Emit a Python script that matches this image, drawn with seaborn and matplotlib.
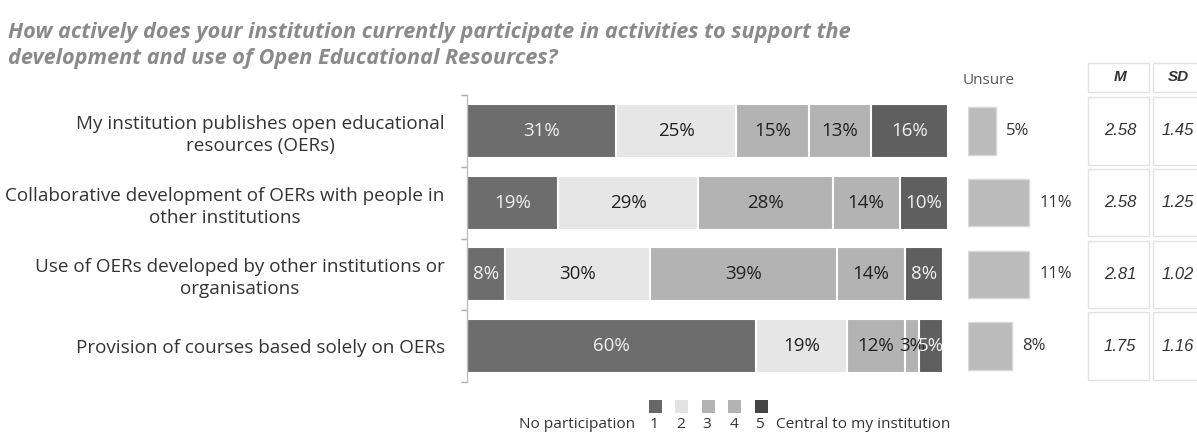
import matplotlib
matplotlib.use("Agg")
import matplotlib.pyplot as plt
import seaborn as sns
import numpy as np
import pandas as pd
from matplotlib.patches import Rectangle

# ---------------- data ----------------
title = ("How actively does your institution currently participate in activities to support the\n"
         "development and use of Open Educational Resources?")
categories = [
    "My institution publishes open educational\nresources (OERs)",
    "Collaborative development of OERs with people in\nother institutions",
    "Use of OERs developed by other institutions or\norganisations",
    "Provision of courses based solely on OERs",
]
levels = ["1", "2", "3", "4", "5"]
level1 = [31, 19, 8, 60]
level2 = [25, 29, 30, 19]
level3 = [15, 28, 39, 12]
level4 = [13, 14, 14, 3]
level5 = [16, 10, 8, 5]
unsure = [5, 11, 11, 8]
mean_vals = [2.58, 2.58, 2.81, 1.75]
sd_vals = [1.45, 1.25, 1.02, 1.16]
legend_left = "No participation"
legend_right = "Central to my institution"
unsure_header = "Unsure"
table_headers = ["M", "SD"]

# ---------------- style ----------------
sns.set_theme(style="white")
plt.rcParams["font.family"] = ["Open Sans", "DejaVu Sans"]

colors = ["#6d6d6d", "#e6e6e6", "#b3b3b3", "#b3b3b3", "#5f5f5f"]
legend_colors = ["#676767", "#e3e3e3", "#b3b3b3", "#b3b3b3", "#454545"]
text_colors = ["#f0f0f0", "#222222", "#222222", "#222222", "#f0f0f0"]

W, H = 1197, 432
fig = plt.figure(figsize=(W / 100, H / 100), dpi=100)


def px_axes(x0, y0, x1, y1):
    return fig.add_axes([x0 / W, 1 - y1 / H, (x1 - x0) / W, (y1 - y0) / H])


df = pd.DataFrame({"category": categories, "1": level1, "2": level2,
                   "3": level3, "4": level4, "5": level5, "unsure": unsure})
cum = df[levels].cumsum(axis=1)

# ---------------- main stacked bars ----------------
ax = px_axes(467, 95, 948, 382)
for k in range(len(levels) - 1, -1, -1):
    sns.barplot(x=cum[levels[k]], y=df["category"], color=colors[k], orient="h",
                width=0.75, errorbar=None, edgecolor="white", linewidth=1.5,
                saturation=1, ax=ax)
ax.set_xlim(0, 100)
ax.set_ylim(3.5, -0.5)
for k, lev in enumerate(levels):
    starts = cum[lev] - df[lev]
    for i, v in enumerate(df[lev]):
        ax.text(starts[i] + v / 2, i, f"{v}%", ha="center", va="center",
                fontsize=13.5, color=text_colors[k])
ax.set_xlabel("")
ax.set_ylabel("")
ax.set_xticks([])
ax.set_yticks(range(len(categories)))
ax.set_yticklabels(categories, fontsize=13.6, color="#333333", linespacing=1.28)
for lab in ax.get_yticklabels():
    lab.set_multialignment("center")
ax.tick_params(axis="y", which="major", length=0, pad=16)
ax.set_yticks(np.arange(-0.5, len(categories), 1.0), minor=True)
ax.tick_params(axis="y", which="minor", length=4, width=1, color="#aaaaaa", left=True)
for s in ["top", "right", "bottom"]:
    ax.spines[s].set_visible(False)
ax.spines["left"].set_color("#c0c0c0")
ax.spines["left"].set_linewidth(1)

# ---------------- unsure bars ----------------
ax2 = px_axes(968, 95, 1080, 382)
sns.barplot(x=df["unsure"], y=df["category"], color="#bbbbbb", orient="h",
            width=0.66, errorbar=None, edgecolor="#d8d8d8", linewidth=1,
            saturation=1, ax=ax2)
ax2.set_xlim(0, 112 / 5.55)
ax2.set_ylim(3.5, -0.5)
for i, v in enumerate(unsure):
    ax2.text(v + 1.8, i, f"{v}%", ha="left", va="center", fontsize=12, color="#333333")
ax2.axis("off")
ax2.text(-0.9, -0.7, unsure_header, ha="left", va="center", fontsize=11, color="#555555")

# ---------------- M / SD table ----------------
ax3 = px_axes(1086, 61, 1197, 383)
ax3.set_xlim(0, 111)
ax3.set_ylim(3.514, -0.974)
ax3.axis("off")
col_x = [(2, 63), (67, 114)]
text_x = [34, 92]
header_y = (-0.95, -0.54)
for j, (xa, xb) in enumerate(col_x):
    ax3.add_patch(Rectangle((xa, header_y[0]), xb - xa, header_y[1] - header_y[0],
                            facecolor="white", edgecolor="#e2e2e2", lw=1, clip_on=False))
    ax3.text(text_x[j], sum(header_y) / 2, table_headers[j],
             ha="center", va="center", fontsize=11, fontweight="bold", style="italic",
             family="Liberation Sans", color="#333333")
    vals = mean_vals if j == 0 else sd_vals
    for i, v in enumerate(vals):
        ax3.add_patch(Rectangle((xa, i - 0.47), xb - xa, 0.94, facecolor="white",
                                edgecolor="#e2e2e2", lw=1, clip_on=False))
        ax3.text(text_x[j], i, f"{v:.2f}", ha="center", va="center",
                 fontsize=12, style="italic", family="Liberation Sans", color="#333333")

# ---------------- legend ----------------
axl = px_axes(500, 395, 980, 432)
u = 26.5
x0 = 627.5
axl.set_xlim((500 - x0) / u, (980 - x0) / u)
axl.set_ylim(0, 1)
axl.axis("off")
lx = np.arange(1, len(levels) + 1)
axl.scatter(lx + 0.05, [0.68] * len(levels), marker="s", s=85, c=legend_colors,
            edgecolors="none")
for xv, lab in zip(lx, levels):
    axl.text(xv, 0.2, lab, ha="center", va="center", fontsize=11.1, color="#333333")
axl.text(0.3, 0.2, legend_left, ha="right", va="center", fontsize=11.1, color="#333333")
axl.text(5.62, 0.2, legend_right, ha="left", va="center", fontsize=11.1, color="#333333")

# ---------------- title ----------------
fig.text(8 / W, 1 - 22 / H, title, ha="left", va="top", fontsize=15.6, style="italic",
         fontweight="bold", color="#8a8a8a", linespacing=1.3)

fig.savefig("out.png", dpi=100)
